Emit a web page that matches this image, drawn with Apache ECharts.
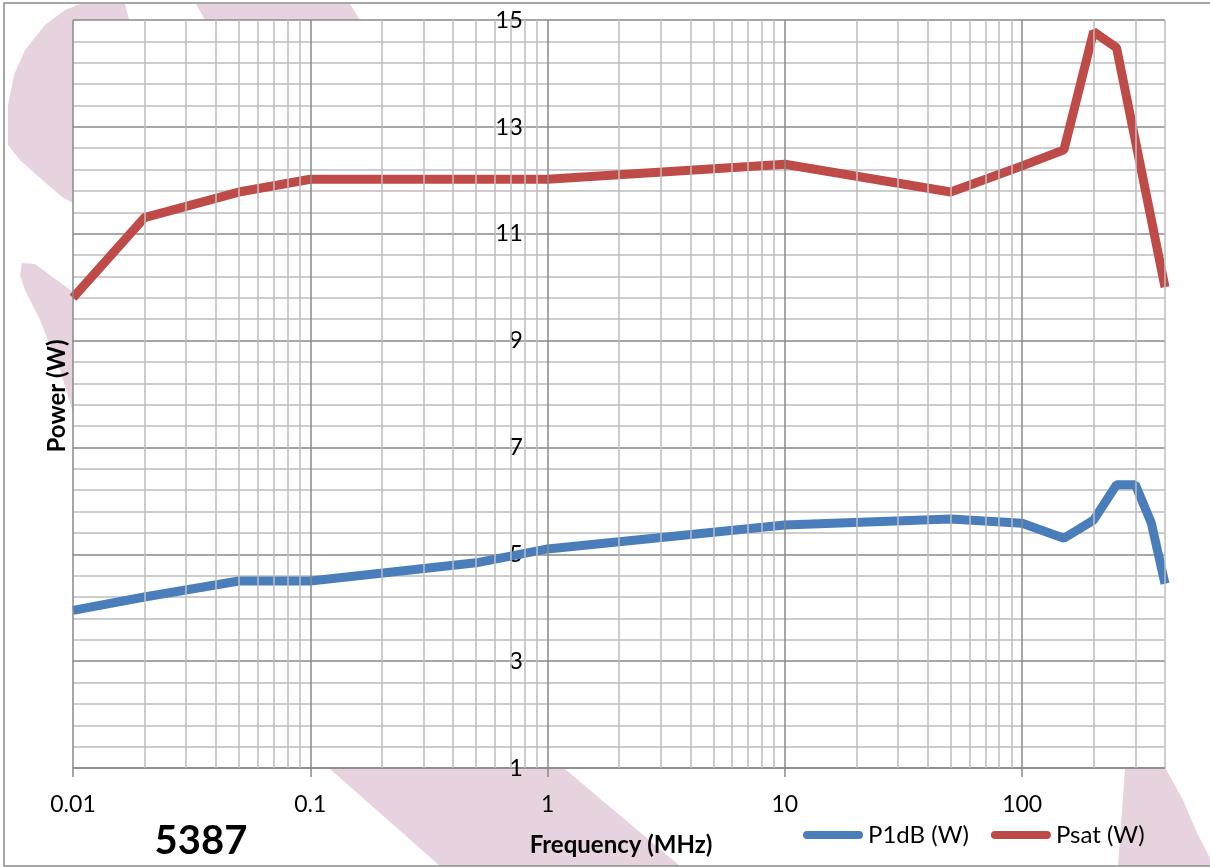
<!DOCTYPE html>
<html>
<head>
<meta charset="utf-8">
<script src="https://cdn.jsdelivr.net/npm/echarts@6/dist/echarts.min.js"></script>
<style>
  html, body { margin: 0; padding: 0; background: #ffffff; }
  #chart { width: 1210px; height: 867px; }
</style>
</head>
<body>
<div id="chart"></div>
<script>
// ---- data ----
const freqP1dB = [0.01, 0.02, 0.05, 0.1, 0.5, 1, 10, 50, 100, 150, 200, 250, 300, 350, 400];
const p1dB     = [3.95, 4.2, 4.5, 4.5, 4.84, 5.1, 5.55, 5.66, 5.58, 5.3, 5.64, 6.3, 6.3, 5.59, 4.45];
const freqPsat = [0.01, 0.02, 0.05, 0.1, 1, 10, 50, 100, 150, 200, 250, 400];
const psat     = [9.8, 11.3, 11.78, 12.02, 12.02, 12.3, 11.78, 12.27, 12.57, 14.78, 14.48, 10.0];
const xTickLabels = ['0.01', '0.1', '1', '10', '100'];
const decades = [0.01, 0.1, 1, 10, 100];
const minorMultipliers = [2, 3, 4, 5, 6, 7, 8, 9];
const seriesNames = ['P1dB (W)', 'Psat (W)'];
const modelLabel = '5387';
const xTitle = 'Frequency (MHz)';
const yTitle = 'Power (W)';

const FONT = 'Lato, "Open Sans", sans-serif';
const MAJOR = '#898989';
const MINOR = '#bdbdbd';
const PINK = '#e6d3df';

const xMax = 400;
const vLines = [];
decades.forEach(d => {
  vLines.push({ xAxis: d, lineStyle: { color: MAJOR, width: 1.5, type: 'solid' } });
  minorMultipliers.forEach(m => {
    const v = d * m;
    if (v <= xMax + 1e-9) vLines.push({ xAxis: v, lineStyle: { color: MINOR, width: 1.5, type: 'solid' } });
  });
});

const chart = echarts.init(document.getElementById('chart'), null, { renderer: 'canvas' });

const option = {
  animation: false,
  backgroundColor: '#ffffff',
  textStyle: { fontFamily: FONT },
  grid: { left: 73, top: 20, right: 45, bottom: 99, containLabel: false, outerBoundsMode: 'none' },
  legend: {
    data: seriesNames,
    left: 803, top: 822, padding: 0,
    itemWidth: 60, itemHeight: 8, itemGap: 22,
    icon: 'path://M4,0L56,0A4,4,0,0,1,56,8L4,8A4,4,0,0,1,4,0Z',
    textStyle: { fontFamily: FONT, fontSize: 24, color: '#000', lineHeight: 26 }
  },
  xAxis: {
    type: 'log', logBase: 10, min: 0.01, max: xMax,
    axisLine: { show: true, lineStyle: { color: MAJOR, width: 1.5 } },
    axisTick: { show: true, length: 9, lineStyle: { color: MAJOR, width: 1.5 } },
    axisLabel: {
      fontFamily: FONT, fontSize: 23, color: '#000', margin: 25,
      showMaxLabel: false,
      formatter: function (value) {
        const lab = xTickLabels.find(l => Math.abs(Math.log10(+l) - Math.log10(value)) < 1e-6);
        return lab || '';
      }
    },
    splitLine: { show: false },
    minorTick: { show: false },
    minorSplitLine: { show: false }
  },
  yAxis: {
    type: 'value', min: 1, max: 15, interval: 2,
    position: 'left', offset: -476,
    axisLine: { show: false },
    axisTick: { show: false },
    axisLabel: { fontFamily: FONT, fontSize: 24, color: '#000', margin: 26 },
    splitLine: { show: true, lineStyle: { color: MAJOR, width: 1.5 } },
    minorTick: { show: false, splitNumber: 5 },
    minorSplitLine: { show: true, lineStyle: { color: MINOR, width: 1.5 } }
  },
  series: [
    {
      name: '__grid', type: 'line', data: [], z: 1, silent: true,
      markLine: {
        silent: true, symbol: ['none', 'none'], animation: false,
        label: { show: false }, emphasis: { disabled: true },
        data: vLines
      }
    },
    {
      name: seriesNames[0], type: 'line', z: 3,
      data: freqP1dB.map((f, i) => [f, p1dB[i]]),
      showSymbol: false, symbol: 'none',
      itemStyle: { color: '#4a7ebb' },
      lineStyle: { color: '#4a7ebb', width: 9 }
    },
    {
      name: seriesNames[1], type: 'line', z: 3,
      data: freqPsat.map((f, i) => [f, psat[i]]),
      showSymbol: false, symbol: 'none',
      itemStyle: { color: '#be4b48' },
      lineStyle: { color: '#be4b48', width: 9 }
    }
  ],
  graphic: [
    // watermark fragments visible in the margins
    { type: 'polygon', silent: true, z: -1, shape: { points: [[80,4],[125,4],[129,20],[73,20],[73,203],[62,197],[40,178],[20,160],[8,145],[8,105],[14,75],[25,50],[45,25],[65,10]] }, style: { fill: PINK } },
    { type: 'polygon', silent: true, z: -1, shape: { points: [[196,4],[350,4],[360,20],[205,20]] }, style: { fill: PINK } },
    { type: 'polygon', silent: true, z: -1, shape: { points: [[22,263],[35,264],[73,292],[73,412],[60,370],[40,320],[25,290],[20,275]] }, style: { fill: PINK } },
    { type: 'polygon', silent: true, z: -1, shape: { points: [[330,769],[565,769],[680,866],[440,866]] }, style: { fill: PINK } },
    { type: 'polygon', silent: true, z: -1, shape: { points: [[1125,769],[1166,769],[1183,800],[1197,833],[1210,858],[1210,866],[1118,866]] }, style: { fill: PINK } },
    // outer frame
    { type: 'rect', silent: true, z: 10, shape: { x: 4, y: 3, width: 1212, height: 863 }, style: { fill: null, stroke: '#8a8a8a', lineWidth: 1.5 } },
    // texts
    { type: 'text', silent: true, z: 11, x: 201, y: 841, style: { text: modelLabel, font: 'bold 40px ' + FONT, fill: '#000', textAlign: 'center', textVerticalAlign: 'middle' } },
    { type: 'text', silent: true, z: 11, x: 621, y: 845, style: { text: xTitle, font: 'bold 24px ' + FONT, fill: '#000', textAlign: 'center', textVerticalAlign: 'middle' } },
    { type: 'text', silent: true, z: 11, x: 57, y: 396, rotation: Math.PI / 2, style: { text: yTitle, font: 'bold 24px ' + FONT, fill: '#000', textAlign: 'center', textVerticalAlign: 'middle' } }
  ]
};

chart.setOption(option);
</script>
</body>
</html>
